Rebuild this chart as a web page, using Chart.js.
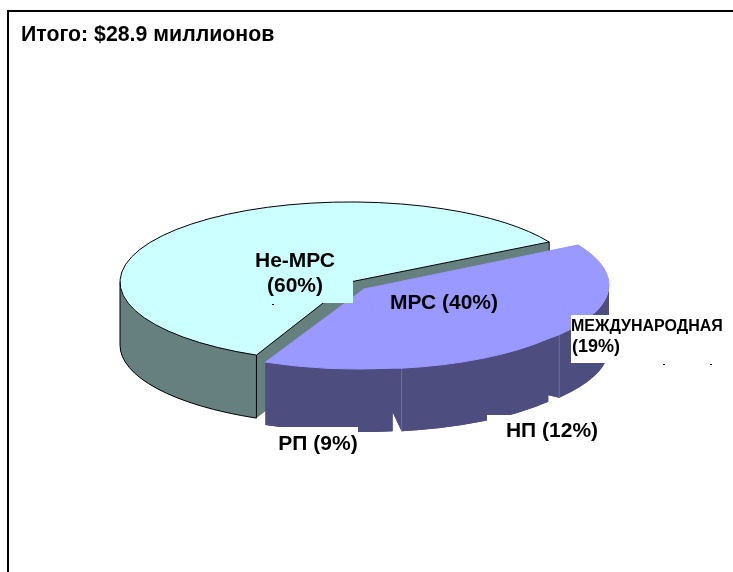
<!DOCTYPE html>
<html>
<head>
<meta charset="utf-8">
<title>Итого</title>
<script src="https://cdn.jsdelivr.net/npm/chart.js@4/dist/chart.umd.js"></script>
<style>
  html, body { margin: 0; padding: 0; background: #fff; overflow: hidden; }
  canvas { display: block; }
</style>
</head>
<body>
<canvas id="pie" width="733" height="572"></canvas>
<script>
const categories = ['Не-МРС', 'МЕЖДУНАРОДНАЯ', 'НП', 'РП'];
const shares = [60, 19, 12, 9];
const groupName = 'МРС';
const groupShare = 40;
const totalText = 'Итого: $28.9 миллионов';

const topColors = ['#CCFFFF', '#9999FF', '#9999FF', '#9999FF'];
const sideColors = ['#668080', '#4D4D80', '#4D4D80', '#4D4D80'];

// fake 3D look: squash the pie and extrude it downwards
const tilt = 0.348;
const depth = 63;
// how far each slice is pulled out of the pie, in screen pixels
const sliceShift = [[0, 0], [29, 3], [18, 7], [9, 7]];
// the three small slices share one tip so their tops stay joined
const sliceTip = [[0, 0], [14, 7], [14, 7], [14, 7]];

function rim(arc, i, angle, drop) {
    return {
        x: arc.x + sliceShift[i][0] + Math.cos(angle) * arc.outerRadius,
        y: arc.y + sliceShift[i][1] + drop + Math.sin(angle) * arc.outerRadius * tilt
    };
}

function tip(arc, i, drop) {
    return { x: arc.x + sliceTip[i][0], y: arc.y + sliceTip[i][1] + drop };
}

function fillPoly(ctx, points, color) {
    ctx.fillStyle = color;
    ctx.beginPath();
    points.forEach((p, n) => n ? ctx.lineTo(p.x, p.y) : ctx.moveTo(p.x, p.y));
    ctx.closePath();
    ctx.fill();
}

function sectorPath(ctx, arc, i, drop) {
    const r = arc.outerRadius;
    const t = tip(arc, i, drop);
    ctx.beginPath();
    ctx.moveTo(t.x, t.y);
    ctx.ellipse(arc.x + sliceShift[i][0], arc.y + sliceShift[i][1] + drop, r, r * tilt, 0, arc.startAngle, arc.endAngle);
    ctx.closePath();
}

function drawSide(ctx, arc, i) {
    const r = arc.outerRadius;
    const cx = arc.x + sliceShift[i][0];
    const cy = arc.y + sliceShift[i][1];
    const color = sideColors[i];

    // floor of the slice
    sectorPath(ctx, arc, i, depth);
    ctx.fillStyle = color;
    ctx.fill();

    // curved outer wall, only the front half of the ellipse can be seen
    [0, 2 * Math.PI].forEach(turn => {
        const from = Math.max(arc.startAngle, turn);
        const to = Math.min(arc.endAngle, turn + Math.PI);
        if (to <= from) return;
        ctx.beginPath();
        ctx.ellipse(cx, cy + depth, r, r * tilt, 0, from, to);
        ctx.ellipse(cx, cy, r, r * tilt, 0, to, from, true);
        ctx.closePath();
        ctx.fill();
    });

    // the two flat cut walls
    [arc.startAngle, arc.endAngle].forEach(a => {
        fillPoly(ctx, [tip(arc, i, 0), rim(arc, i, a, 0), rim(arc, i, a, depth), tip(arc, i, depth)], color);
    });
}

function drawTop(ctx, arc, i) {
    sectorPath(ctx, arc, i, 0);
    ctx.fillStyle = topColors[i];
    ctx.fill();
}

function wall(ctx, arc, i, angle, color) {
    const p = rim(arc, i, angle, 0);
    ctx.strokeStyle = color;
    ctx.lineWidth = 1;
    ctx.beginPath();
    ctx.moveTo(p.x, p.y);
    ctx.lineTo(p.x, p.y + depth);
    ctx.stroke();
}

const pie3d = {
    id: 'pie3d',
    // the arcs are laid out by Chart.js, only the painting is replaced
    beforeDatasetDraw(chart, args) {
        const ctx = chart.ctx;
        const arcs = args.meta.data;

        // big slice, with its black outline
        const big = arcs[0];
        drawSide(ctx, big, 0);
        ctx.strokeStyle = '#000';
        ctx.lineWidth = 1;
        ctx.beginPath();
        ctx.ellipse(big.x, big.y + depth, big.outerRadius, big.outerRadius * tilt, 0, big.startAngle, Math.PI);
        ctx.stroke();
        wall(ctx, big, 0, big.startAngle, '#000');
        wall(ctx, big, 0, Math.PI, '#000');
        wall(ctx, big, 0, big.endAngle, '#000');
        drawTop(ctx, big, 0);
        ctx.strokeStyle = '#000';
        ctx.stroke();

        // pulled out part: all sides first, then the tops over them
        [3, 2, 1].forEach(i => drawSide(ctx, arcs[i], i));
        wall(ctx, arcs[1], 1, arcs[1].endAngle, '#6E6E9E');
        wall(ctx, arcs[2], 2, arcs[2].endAngle, '#6E6E9E');
        [3, 2, 1].forEach(i => {
            drawTop(ctx, arcs[i], i);
            ctx.strokeStyle = topColors[i];
            ctx.lineWidth = 1;
            ctx.stroke();
        });

        // close the small gaps left between neighbouring tops
        [1, 2].forEach(i => {
            fillPoly(ctx, [
                tip(arcs[i], i, 0),
                rim(arcs[i], i, arcs[i].endAngle, 0),
                rim(arcs[i + 1], i + 1, arcs[i + 1].startAngle, 0)
            ], topColors[i]);
            ctx.strokeStyle = topColors[i];
            ctx.stroke();
        });
        return false;
    },
    afterDatasetsDraw(chart) {
        const ctx = chart.ctx;
        const mask = (color, x, y, w, h) => {
            ctx.fillStyle = color;
            ctx.fillRect(x, y, w, h);
        };
        const text = (str, x, y, size, align) => {
            ctx.font = 'bold ' + size + 'px "Liberation Sans", Arial, sans-serif';
            ctx.textAlign = align || 'left';
            ctx.textBaseline = 'alphabetic';
            ctx.fillStyle = '#000';
            ctx.fillText(str, x, y);
        };

        // the label boxes sit on top of the pie and hide parts of it
        mask('#CCFFFF', 238, 248, 115, 55);
        mask('#FFFFFF', 571, 315, 152, 48);
        mask('#FFFFFF', 487, 415, 113, 30);
        mask('#FFFFFF', 270, 427, 88, 26);

        text(totalText, 21, 41, 21.3);
        text(categories[0], 295, 267, 21, 'center');
        text('(' + shares[0] + '%)', 295, 292, 21, 'center');
        text(groupName + ' (' + groupShare + '%)', 444, 309, 21, 'center');
        text(categories[1], 571, 331, 16);
        text('(' + shares[1] + '%)', 572, 352, 18);
        text(categories[2] + ' (' + shares[2] + '%)', 552, 437, 21, 'center');
        text(categories[3] + ' (' + shares[3] + '%)', 318, 450, 21, 'center');

        // leftovers next to the label boxes in the original
        mask('#000', 272, 304, 2, 1);
        mask('#000', 663, 364, 2, 1);
        mask('#000', 710, 364, 2, 1);

        // frame
        mask('#000', 7, 10, 726, 2);
        mask('#000', 7, 10, 2, 562);
    }
};

new Chart(document.getElementById('pie'), {
    type: 'pie',
    data: {
        labels: categories,
        datasets: [{
            data: shares,
            backgroundColor: topColors,
            radius: 230,
            borderWidth: 0
        }]
    },
    options: {
        responsive: false,
        animation: false,
        rotation: 204,
        layout: { padding: { right: 33, bottom: 8 } },
        plugins: { legend: { display: false }, tooltip: { enabled: false } }
    },
    plugins: [pie3d]
});
</script>
</body>
</html>
